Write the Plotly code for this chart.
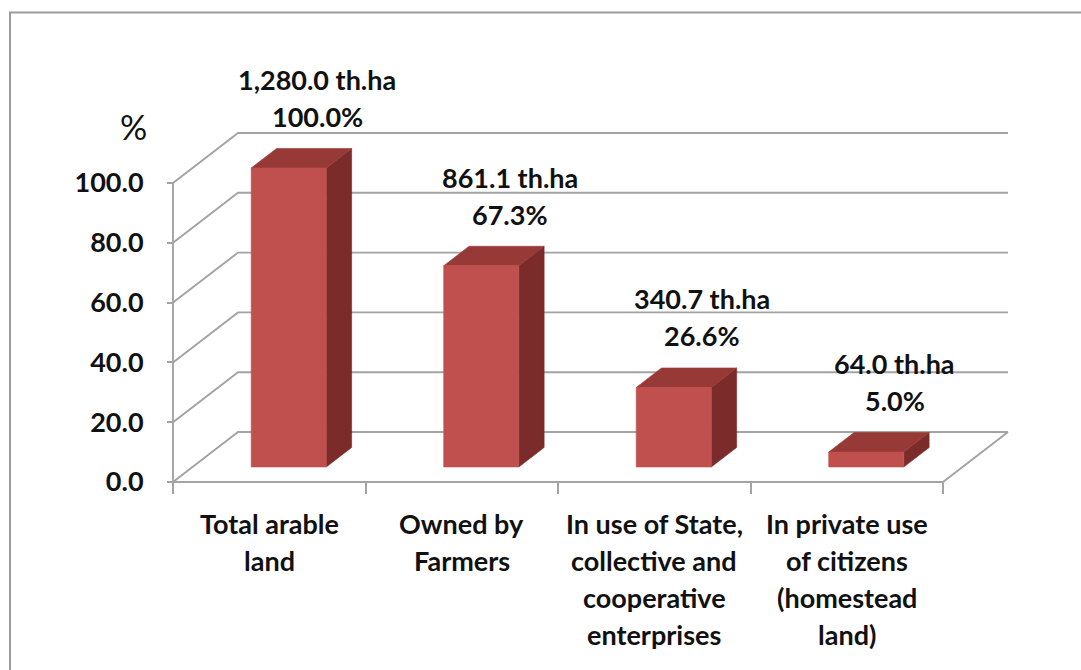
import plotly.graph_objects as go

# ---- data -------------------------------------------------------------
category_lines = [
    ["Total arable", "land"],
    ["Owned by", "Farmers"],
    ["In use of State,", "collective and", "cooperative", "enterprises"],
    ["In private use", "of citizens", "(homestead", "land)"],
]
area_th_ha = [1280.0, 861.1, 340.7, 64.0]
share_pct = [100.0, 67.3, 26.6, 5.0]
y_tick_values = [0, 20, 40, 60, 80, 100]
y_tick_labels = ["0.0", "20.0", "40.0", "60.0", "80.0", "100.0"]
y_axis_unit = "%"

# ---- page / projection setup -----------------------------------------
W, H = 1081, 670
ORIGIN_X, ORIGIN_Y = 173, 482      # pixel position of the front floor corner
CAT_PX = 192.5                      # pixels per category slot
VAL_PX = 2.99                       # pixels per percentage point
DEPTH_DX = 65 / CAT_PX              # oblique depth offset (x, category units)
DEPTH_DY = 50 / VAL_PX              # oblique depth offset (y, value units)
N = len(share_pct)

BAR_HALF = 0.195
D_FRONT, D_BACK = 0.30, 0.69

FONT = "Lato"
TEXT_SIZE = 27
TEXT_C = "#111111"
GRID = "#A3A3A3"
FRONT_C = "#C0504D"
TOP_C = "#973A37"
SIDE_C = "#7B2C2A"


def proj(c, v, d):
    """Oblique projection of (category, value, depth) to plot coordinates."""
    return c + d * DEPTH_DX, v + d * DEPTH_DY


fig = go.Figure()


def add_line(points, color=GRID, width=1.9):
    xs, ys = zip(*[proj(*p) for p in points])
    fig.add_trace(go.Scatter(x=xs, y=ys, mode="lines",
                             line=dict(color=color, width=width),
                             hoverinfo="skip", showlegend=False))


def add_face(points, color):
    xs, ys = zip(*[proj(*p) for p in points])
    fig.add_trace(go.Scatter(x=list(xs) + [xs[0]], y=list(ys) + [ys[0]],
                             mode="lines", fill="toself", fillcolor=color,
                             line=dict(color=color, width=0.6),
                             hoverinfo="skip", showlegend=False))


# walls: side-wall diagonals + back-wall gridlines
for v in y_tick_values:
    add_line([(0, v, 0), (0, v, 1), (N, v, 1)])
# floor front and right edges, vertical value axis
add_line([(0, 0, 0), (N, 0, 0), (N, 0, 1)])
add_line([(0, 0, 0), (0, max(y_tick_values), 0)])

# 3-D bars
for i, h in enumerate(share_pct):
    c = i + 0.5
    l, r = c - BAR_HALF, c + BAR_HALF
    add_face([(r, 0, D_FRONT), (r, 0, D_BACK), (r, h, D_BACK), (r, h, D_FRONT)], SIDE_C)
    add_face([(l, h, D_FRONT), (r, h, D_FRONT), (r, h, D_BACK), (l, h, D_BACK)], TOP_C)
    add_face([(l, 0, D_FRONT), (r, 0, D_FRONT), (r, h, D_FRONT), (l, h, D_FRONT)], FRONT_C)

label_font = dict(family=FONT, size=TEXT_SIZE, color=TEXT_C, weight="bold")
annotations = []
# data labels above each bar
for i, (a, p) in enumerate(zip(area_th_ha, share_pct)):
    x, y = proj(i + 0.5, p, D_BACK)
    for text, shift in ((f"{a:,.1f} th.ha", 69), (f"{p:.1f}%", 32)):
        annotations.append(dict(x=x, y=y, xref="x", yref="y", text=text,
                                showarrow=False, xshift=3, yshift=shift,
                                xanchor="center", yanchor="middle",
                                font=label_font))

# category labels below the floor
for i, lines in enumerate(category_lines):
    for k, line in enumerate(lines):
        annotations.append(dict(x=i + 0.5, y=0, xref="x", yref="y", text=line,
                                showarrow=False, yshift=-(41 + 37 * k),
                                xanchor="center", yanchor="middle",
                                font=label_font))

# unit label above the value axis
annotations.append(dict(x=0, y=max(y_tick_values), xref="x", yref="y",
                        text=y_axis_unit, showarrow=False, xshift=-40, yshift=57,
                        font=dict(family=FONT, size=34, color=TEXT_C)))

x_range = [-ORIGIN_X / CAT_PX, (W - ORIGIN_X) / CAT_PX]
y_range = [-(H - ORIGIN_Y) / VAL_PX, ORIGIN_Y / VAL_PX]

fig.update_layout(
    width=W, height=H,
    margin=dict(l=0, r=0, t=0, b=0),
    paper_bgcolor="white", plot_bgcolor="white",
    showlegend=False,
    annotations=annotations,
    xaxis=dict(range=x_range, anchor="free", position=(H - ORIGIN_Y) / H,
               tickmode="array", tickvals=list(range(N + 1)),
               showticklabels=False, ticks="outside", ticklen=11,
               tickwidth=1.9, tickcolor=GRID,
               showgrid=False, zeroline=False, showline=False, fixedrange=True),
    yaxis=dict(range=y_range, anchor="free", position=ORIGIN_X / W,
               tickmode="array", tickvals=y_tick_values, ticktext=y_tick_labels,
               ticks="outside", ticklen=6, tickwidth=1.9, tickcolor=GRID,
               ticklabelstandoff=18,
               tickfont=label_font,
               showgrid=False, zeroline=False, showline=False, fixedrange=True),
    shapes=[dict(type="rect", xref="paper", yref="paper",
                 x0=10 / W, x1=1.02, y0=-0.02, y1=1 - 12.5 / H,
                 line=dict(color="#9C9C9C", width=2), layer="below")],
)

fig.write_html("out.html")
